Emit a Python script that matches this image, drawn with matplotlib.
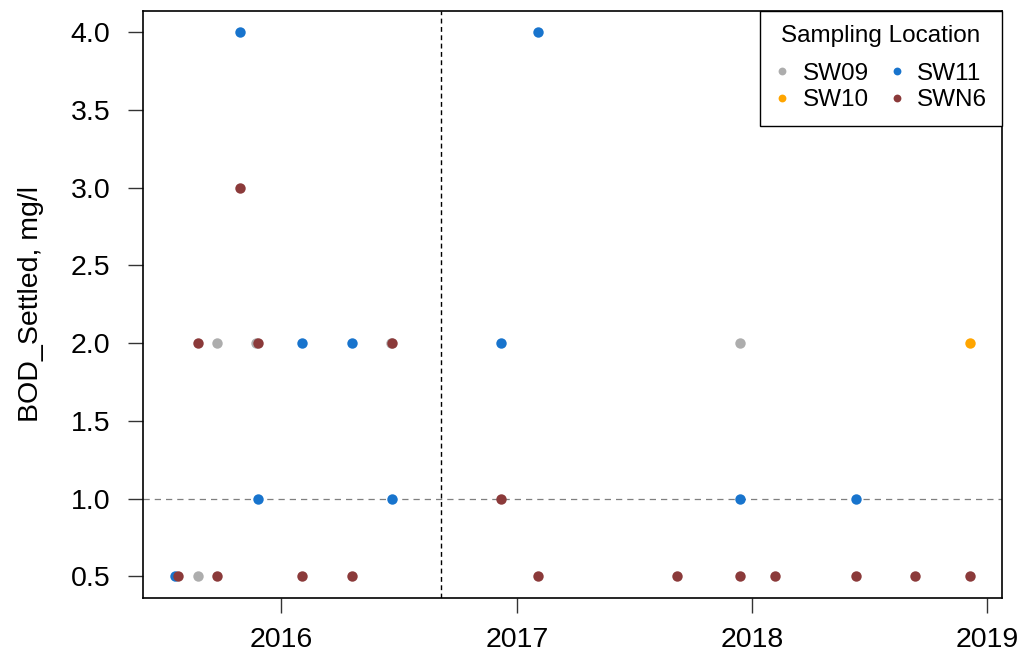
import numpy as np
import matplotlib
matplotlib.use("Agg")
import matplotlib.pyplot as plt
import matplotlib.dates as mdates
import datetime as dt

plt.rcParams['font.family'] = ['Liberation Sans', 'DejaVu Sans']

# Data
sw09_dates = ['2015-08-25', '2015-09-23', '2015-11-23', '2016-06-19', '2017-12-13']
sw09_vals = [0.5, 2.0, 2.0, 2.0, 2.0]

sw10_dates = ['2018-12-06']
sw10_vals = [2.0]

sw11_dates = ['2015-07-20', '2015-10-29', '2015-11-26', '2016-02-02', '2016-04-20',
              '2016-06-21', '2016-12-07', '2017-02-02', '2017-12-13', '2018-06-12']
sw11_vals = [0.5, 4.0, 1.0, 2.0, 2.0, 1.0, 2.0, 4.0, 1.0, 1.0]

swn6_dates = ['2015-07-25', '2015-08-25', '2015-09-23', '2015-10-29', '2015-11-26',
              '2016-02-02', '2016-04-20', '2016-06-21', '2016-12-07', '2017-02-02',
              '2017-09-06', '2017-12-13', '2018-02-06', '2018-06-12', '2018-09-11',
              '2018-12-06']
swn6_vals = [0.5, 2.0, 0.5, 3.0, 2.0, 0.5, 0.5, 2.0, 1.0, 0.5, 0.5, 0.5, 0.5, 0.5,
             0.5, 0.5]

series = [
    ('SW09', sw09_dates, sw09_vals, '#ADADAD'),
    ('SW10', sw10_dates, sw10_vals, '#FFA500'),
    ('SW11', sw11_dates, sw11_vals, '#1874CD'),
    ('SWN6', swn6_dates, swn6_vals, '#8B3A3A'),
]

threshold = 1.0
split_date = '2016-09-05'
years = [2016, 2017, 2018, 2019]
yticks = [0.5, 1.0, 1.5, 2.0, 2.5, 3.0, 3.5, 4.0]

fig = plt.figure(figsize=(10.3, 6.59), dpi=100)
ax = fig.add_axes([0.1393, 0.0926, 0.8335, 0.8912])

all_dates = []
for name, dates, vals, col in series:
    d = [dt.datetime.strptime(s, '%Y-%m-%d') for s in dates]
    all_dates += d
    ax.plot(d, vals, 'o', color=col, ms=7.5, mec='none', label=name, zorder=3)

# R style 4% padding
dn = mdates.date2num(all_dates)
span = dn.max() - dn.min()
ax.set_xlim(dn.min() - 0.04 * span, dn.max() + 0.04 * span)
ax.set_ylim(0.5 - 0.04 * 3.5, 4.0 + 0.04 * 3.5)

ax.axhline(threshold, color='#7f7f7f', ls=(0, (5, 4)), lw=0.9, zorder=1)
ax.axvline(dt.datetime.strptime(split_date, '%Y-%m-%d'), color='black',
           ls=(0, (3.5, 2.5)), lw=1.0, zorder=1)

ax.set_xticks([dt.datetime(y, 1, 1) for y in years])
ax.set_xticklabels([str(y) for y in years])
ax.set_yticks(yticks)
ax.set_yticklabels(['%.1f' % v for v in yticks])
ax.tick_params(axis='both', labelsize=20.5, length=11, width=1.0, color='#333333')
ax.tick_params(axis='x', pad=10)
ax.tick_params(axis='y', pad=13)
ax.set_ylabel('BOD_Settled, mg/l', fontsize=20.5, labelpad=19)
for s in ax.spines.values():
    s.set_linewidth(1.2)

leg = ax.legend(title='Sampling Location', loc='upper right', ncol=2,
                fontsize=17.5, title_fontsize=17.5, borderaxespad=0,
                fancybox=False, edgecolor='black', framealpha=1,
                markerscale=0.75, handlelength=0.6, handletextpad=0.55,
                columnspacing=0.85, labelspacing=0.2, borderpad=0.6)
leg.get_frame().set_linewidth(1.0)
# extra gap between legend title and entries
leg._legend_box.sep = 11

fig.savefig('out.png', dpi=100)
